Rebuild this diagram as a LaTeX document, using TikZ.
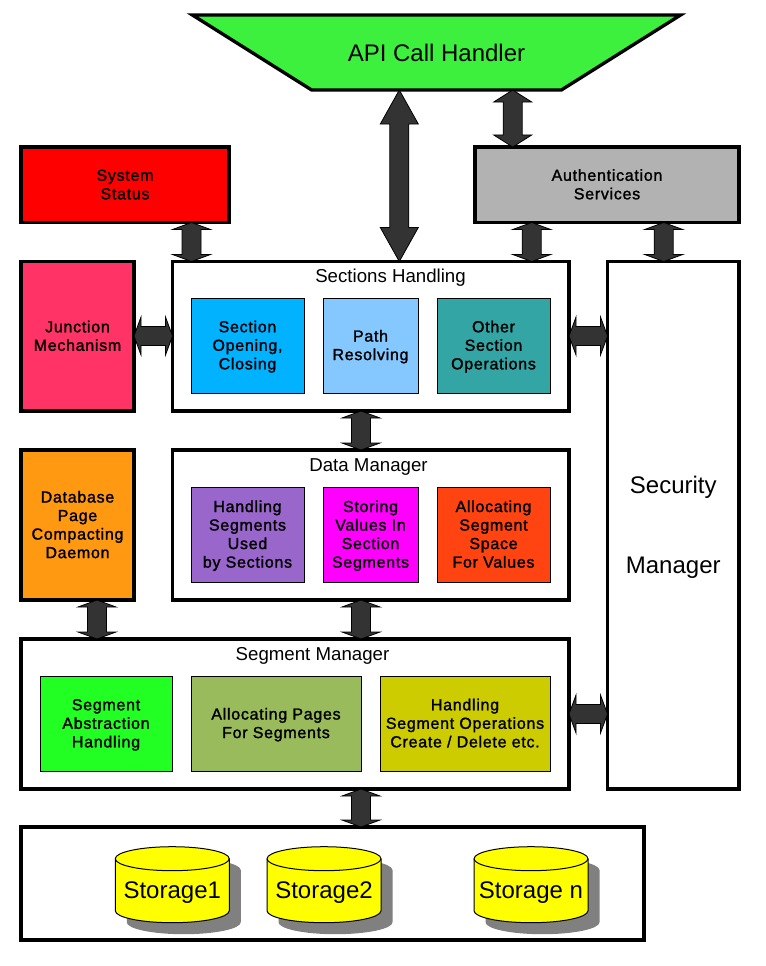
\documentclass[tikz,border=0pt]{standalone}
\usepackage{fontspec}
\setmainfont{Liberation Sans}
\newfontface\lblface[FakeBold=1.5,LetterSpace=4.5]{Liberation Sans}
\usetikzlibrary{shapes.geometric,calc}
\newcommand{\lblfont}{\fontsize{12}{13.9}\lblface}
\newcommand{\hdrfont}{\fontsize{14}{16}\selectfont}
\newcommand{\bigfont}{\fontsize{18}{21}\selectfont}
\newcommand{\Lbl}[1]{\raisebox{-1.2pt}[\height][\depth]{\begin{tabular}{@{}c@{}}#1\end{tabular}}}
\newcommand{\BigLbl}[1]{\raisebox{-2.2pt}[\height][\depth]{\begin{tabular}{@{}c@{}}#1\end{tabular}}}
\definecolor{cYellow}{RGB}{255,255,0}
\definecolor{cRed}{RGB}{255,0,0}
\definecolor{cMagenta}{RGB}{255,0,255}
\definecolor{cArrow}{RGB}{51,51,51}
\definecolor{cShadow}{RGB}{128,128,128}
\tikzset{
  x=0.75pt,y=-0.75pt,
  wh/.style 2 args={minimum width=#1*0.75pt,minimum height=#2*0.75pt},
  bigbox/.style={draw=black,line width=2.5pt,rectangle,inner sep=0pt,outer sep=0pt,font=\lblfont,miter limit=10},
  smallbox/.style={draw=black,line width=0.75pt,rectangle,inner sep=0pt,outer sep=0pt,font=\lblfont},
  header/.style={font=\hdrfont,inner sep=0pt,anchor=center},
  linkarrow/.style={draw=black,line width=0.6pt,fill=cArrow,line join=miter},
  cylbody/.style={draw=black,line width=0.75pt,fill=cYellow},
  cyllabel/.style={font=\bigfont,inner sep=0pt},
}
% cylinder: centre x, name, label (rim at y=858.7, base at y=910.7)
\newcommand{\storagecyl}[3]{%
  \fill[cShadow,shift={(#1+11.5,11.5)}] (-57,858.7) arc[start angle=180,end angle=0,x radius=42.75pt,y radius=9pt]
    -- (57,910.7) arc[start angle=0,end angle=-180,x radius=42.75pt,y radius=9pt] -- cycle;
  \draw[cylbody,shift={(#1,0)}] (-57,858.7) arc[start angle=180,end angle=0,x radius=42.75pt,y radius=9pt]
    -- (57,910.7) arc[start angle=0,end angle=-180,x radius=42.75pt,y radius=9pt] -- cycle;
  \draw[line width=0.75pt,shift={(#1,0)}] (-57,858.7) arc[start angle=180,end angle=360,x radius=42.75pt,y radius=9pt];
  \node[cyllabel] (#2) at (#1,892.5) {#3};
}
\newcommand{\varrow}[4]{%
  \coordinate (vx) at (#1,0);
  \coordinate (vt) at (vx |- #2.south);
  \coordinate (vb) at (vx |- #3.north);
  \draw[linkarrow] (vt) -- ($(vt)+(19,#4)$) -- ($(vt)+(9.5,#4)$) -- ($(vb)+(9.5,-#4)$) -- ($(vb)+(19,-#4)$) -- (vb)
    -- ($(vb)+(-19,-#4)$) -- ($(vb)+(-9.5,-#4)$) -- ($(vt)+(-9.5,#4)$) -- ($(vt)+(-19,#4)$) -- cycle;
}
\newcommand{\harrow}[4]{%
  \coordinate (vy) at (0,#1);
  \coordinate (vl) at (vy -| #2.east);
  \coordinate (vr) at (vy -| #3.west);
  \draw[linkarrow] (vl) -- ($(vl)+(#4,-19)$) -- ($(vl)+(#4,-9.5)$) -- ($(vr)+(-#4,-9.5)$) -- ($(vr)+(-#4,-19)$) -- (vr)
    -- ($(vr)+(-#4,19)$) -- ($(vr)+(-#4,9.5)$) -- ($(vl)+(#4,9.5)$) -- ($(vl)+(#4,19)$) -- cycle;
}
\begin{document}
\begin{tikzpicture}
\useasboundingbox (0,0) rectangle (765,966);
\fill[white] (0,0) rectangle (765,966);
% outer boxes
\node[trapezium,shape border rotate=180,trapezium stretches=true,trapezium angle=11.75,
  draw=black,line width=2.5pt,fill={rgb,255:red,62;green,240;blue,62},inner sep=0pt,outer sep=0pt,
  minimum width=490*0.75pt,minimum height=75*0.75pt,font=\bigfont] (api) at (436.5,52.5) {API Call Handler};
\node[bigbox,wh={208}{75.5},fill=cRed] (sys) at (125,184.75) {\Lbl{System\\Status}};
\node[bigbox,wh={264}{75.5},fill={rgb,255:red,178;green,178;blue,178}] (auth) at (607,184.75) {\Lbl{Authentication\\Services}};
\node[bigbox,wh={113}{149.5},fill={rgb,255:red,255;green,51;blue,102}] (junc) at (77.5,336.25) {\Lbl{Junction\\Mechanism}};
\node[bigbox,wh={396.5}{149.5},fill=white] (sec) at (370.75,336.25) {};
\node[bigbox,wh={131.5}{527.5},fill=white,font=\bigfont] (secm) at (673.25,525.25) {\BigLbl{Security\\[39pt]Manager}};
\node[bigbox,wh={113}{150},fill={rgb,255:red,255;green,153;blue,17}] (daemon) at (77.5,525) {\Lbl{Database\\Page\\Compacting\\Daemon}};
\node[bigbox,wh={396.5}{150},fill=white] (data) at (370.75,525) {};
\node[bigbox,wh={548}{150},fill=white] (seg) at (295,714) {};
\node[bigbox,wh={623}{113},fill=white] (stor) at (332.5,883.5) {};
% headers
\node[header] (sech) at (390.5,277.5) {Sections Handling};
\node[header] (datah) at (368.5,467.5) {Data Manager};
\node[header] (segh) at (312.5,655.5) {Segment Manager};
% inner boxes: sections
\node[smallbox,wh={113}{95},fill={rgb,255:red,0;green,178;blue,255}] (s1) at (247.5,345.5) {\Lbl{Section\\Opening,\\Closing}};
\node[smallbox,wh={95}{95},fill={rgb,255:red,133;green,200;blue,255}] (s2) at (370.5,345.5) {\Lbl{Path\\Resolving}};
\node[smallbox,wh={113}{95},fill={rgb,255:red,51;green,165;blue,165}] (s3) at (493.5,345.5) {\Lbl{Other\\Section\\Operations}};
% inner boxes: data
\node[smallbox,wh={113}{95},fill={rgb,255:red,153;green,102;blue,204}] (d1) at (247.5,534.5) {\Lbl{Handling\\Segments\\Used\\by Sections}};
\node[smallbox,wh={95}{95},fill=cMagenta] (d2) at (370.5,534.5) {\Lbl{Storing\\Values In\\Section\\Segments}};
\node[smallbox,wh={113}{95},fill={rgb,255:red,255;green,68;blue,17}] (d3) at (493.5,534.5) {\Lbl{Allocating\\Segment\\Space\\For Values}};
% inner boxes: segment
\node[smallbox,wh={132}{95},fill={rgb,255:red,34;green,255;blue,34}] (g1) at (106,723.5) {\Lbl{Segment\\Abstraction\\Handling}};
\node[smallbox,wh={170}{95},fill={rgb,255:red,153;green,187;blue,92}] (g2) at (276,723.5) {\Lbl{Allocating Pages\\For Segments}};
\node[smallbox,wh={170}{95},fill={rgb,255:red,204;green,204;blue,0}] (g3) at (465,723.5) {\Lbl{Handling\\Segment Operations\\Create / Delete etc.}};
% storage
\storagecyl{172.25}{c1}{Storage1}
\storagecyl{324}{c2}{Storage2}
\storagecyl{531}{c3}{Storage n}
% connectors
\varrow{399.3}{api}{sec}{34}
\varrow{512.7}{api}{auth}{12}
\varrow{191.5}{sys}{sec}{7}
\varrow{531.7}{auth}{sec}{7}
\varrow{663.7}{auth}{secm}{7}
\varrow{361}{sec}{data}{7}
\varrow{361}{data}{seg}{7}
\varrow{97}{daemon}{seg}{7}
\varrow{361}{seg}{stor}{7}
\harrow{336}{junc}{sec}{7}
\harrow{336}{sec}{secm}{7}
\harrow{714}{seg}{secm}{7}
\end{tikzpicture}
\end{document}
